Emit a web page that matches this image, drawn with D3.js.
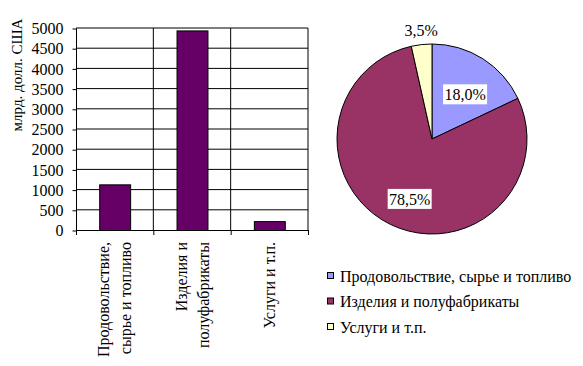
<!DOCTYPE html>
<html>
<head>
<meta charset="utf-8">
<script src="https://cdn.jsdelivr.net/npm/d3@7"></script>
<style>
  body { margin: 0; background: #fff; }
  svg { display: block; font-family: "Liberation Serif", "Times New Roman", serif; }
</style>
</head>
<body>
<svg id="chart" width="583" height="366"></svg>
<script>
// data
const categories = [
    ['Продовольствие,', 'сырье и топливо'],
    ['Изделия и', 'полуфабрикаты'],
    ['Услуги и т.п.']
];
const legendNames = ['Продовольствие, сырье и топливо', 'Изделия и полуфабрикаты', 'Услуги и т.п.'];
const values = [1130, 4940, 220];
const pieLabels = ['18,0%', '78,5%', '3,5%'];
const yTicks = [0, 500, 1000, 1500, 2000, 2500, 3000, 3500, 4000, 4500, 5000];
const yTitle = 'млрд. долл. США';

const svg = d3.select('#chart');

// bar chart
const x = d3.scaleBand()
    .domain(d3.range(categories.length))
    .range([76, 308])
    .paddingInner(0.6)
    .paddingOuter(0.3);
const xBand = d3.scaleBand().domain(d3.range(categories.length)).range([76, 308]);
const y = d3.scaleLinear().domain([0, 5000]).range([230, 28]);

// horizontal grid
svg.append('g').selectAll('line')
    .data(yTicks.slice(1))
    .enter().append('line')
    .attr('x1', 76).attr('x2', 308)
    .attr('y1', d => y(d)).attr('y2', d => y(d))
    .attr('stroke', '#000');

// vertical grid at category boundaries
svg.append('g').selectAll('line')
    .data(d3.range(1, categories.length + 1))
    .enter().append('line')
    .attr('x1', d => xBand.range()[0] + d * xBand.bandwidth())
    .attr('x2', d => xBand.range()[0] + d * xBand.bandwidth())
    .attr('y1', 28).attr('y2', 230)
    .attr('stroke', '#000');

svg.append('g').selectAll('rect')
    .data(values)
    .enter().append('rect')
    .attr('x', (d, i) => x(i) + 0.5)
    .attr('y', d => y(d) + 0.5)
    .attr('width', x.bandwidth())
    .attr('height', d => y(0) - y(d))
    .attr('fill', '#660066')
    .attr('stroke', '#000');

const yAxis = d3.axisLeft(y).tickValues(yTicks).tickSize(4).tickPadding(9).tickFormat(d3.format('d'));
svg.append('g')
    .attr('transform', 'translate(76.5,0.5)')
    .call(yAxis)
    .call(g => g.select('.domain').attr('d', 'M0,' + y(5000) + 'V' + y(0)))
    .call(g => g.selectAll('text').attr('font-family', 'Liberation Serif').attr('font-size', 16).attr('fill', '#000'))
    .call(g => g.selectAll('line').attr('stroke', '#000'));

// x axis line + ticks at boundaries
svg.append('line').attr('x1', 76).attr('x2', 308).attr('y1', 230.5).attr('y2', 230.5).attr('stroke', '#000');
svg.append('g').selectAll('line')
    .data(d3.range(0, categories.length + 1))
    .enter().append('line')
    .attr('x1', d => 76.5 + d * xBand.bandwidth())
    .attr('x2', d => 76.5 + d * xBand.bandwidth())
    .attr('y1', 230).attr('y2', 235)
    .attr('stroke', '#000');

// category labels rotated
const catG = svg.append('g').selectAll('g')
    .data(categories)
    .enter().append('g')
    .attr('transform', (d, i) => 'translate(' + (xBand(i) + xBand.bandwidth() / 2) + ',242) rotate(-90)');
catG.selectAll('text')
    .data(d => d.map((t, j) => ({ t, j, n: d.length })))
    .enter().append('text')
    .attr('x', 0)
    .attr('y', d => (d.j - (d.n - 1) / 2) * 22)
    .attr('dy', '0.35em')
    .attr('text-anchor', 'end')
    .attr('font-size', 16)
    .text(d => d.t);

svg.append('text')
    .attr('transform', 'translate(17,75) rotate(-90)')
    .attr('text-anchor', 'middle')
    .attr('dy', '0.35em')
    .attr('font-size', 15)
    .text(yTitle);

// pie chart
const pieColors = ['#9999ff', '#993366', '#ffffcc'];
const cx = 432, cy = 139, r = 95;
const pie = d3.pie().sort(null)(values);
const arc = d3.arc().innerRadius(0).outerRadius(r);
const pieG = svg.append('g').attr('transform', 'translate(' + cx + ',' + cy + ')');
pieG.selectAll('path')
    .data(pie)
    .enter().append('path')
    .attr('d', arc)
    .attr('fill', (d, i) => pieColors[i])
    .attr('stroke', '#000')
    .attr('stroke-width', 1);

const inArc = d3.arc().innerRadius(60).outerRadius(60);
const outArc = d3.arc().innerRadius(r + 14).outerRadius(r + 14);
const labelPos = pie.map((d, i) => {
    const c = (i < 2 ? inArc : outArc).centroid(d);
    return { x: c[0] + (i === 1 ? 4 : 1), y: c[1] + (i < 2 ? 6 : 0), text: pieLabels[i], boxed: i < 2 };
});
const lab = pieG.selectAll('g.lab')
    .data(labelPos)
    .enter().append('g')
    .attr('class', 'lab')
    .attr('transform', d => 'translate(' + d.x + ',' + d.y + ')');
lab.filter(d => d.boxed).append('rect')
    .attr('x', -22).attr('y', -10)
    .attr('width', 44).attr('height', 20)
    .attr('fill', '#fff');
lab.append('text')
    .attr('text-anchor', 'middle')
    .attr('dy', '0.35em')
    .attr('font-size', 16)
    .text(d => d.text);

// legend
const leg = svg.append('g').selectAll('g')
    .data(legendNames)
    .enter().append('g')
    .attr('transform', (d, i) => 'translate(327,' + (272 + i * 25.5) + ')');
leg.append('rect')
    .attr('x', 0.5).attr('y', 0.5)
    .attr('width', 6).attr('height', 6)
    .attr('fill', (d, i) => pieColors[i])
    .attr('stroke', '#000');
leg.append('text')
    .attr('x', 13).attr('y', 4)
    .attr('dy', '0.35em')
    .attr('font-size', 16)
    .text(d => d);
</script>
</body>
</html>
